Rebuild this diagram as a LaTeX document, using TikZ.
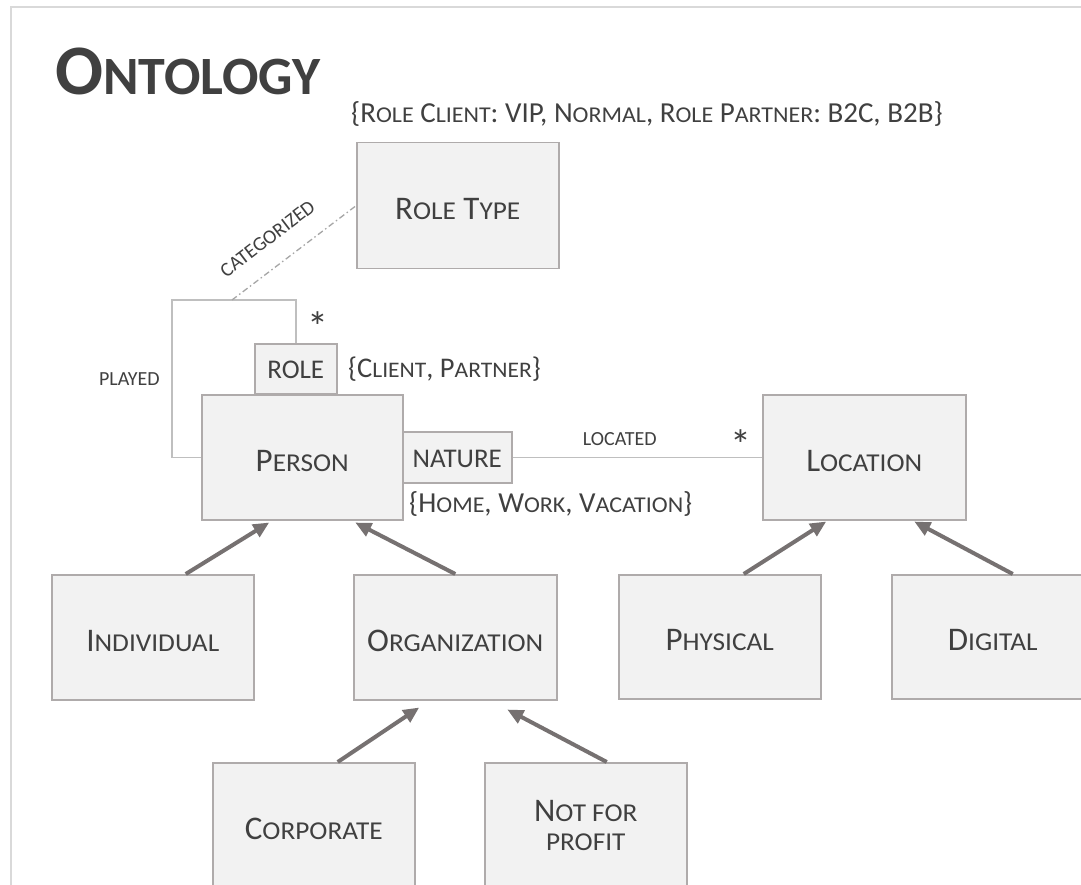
\documentclass[tikz,border=0pt]{standalone}
\usepackage{fontspec}
\setmainfont{Carlito}
\newfontfamily\scf[Scale=0.78, FakeStretch=1.06]{Carlito}
\newfontfamily\tscf[Scale=0.76]{Carlito}
\usetikzlibrary{arrows.meta,calc}
\definecolor{txt}{HTML}{404040}
\definecolor{boxfill}{HTML}{F2F2F2}
\definecolor{boxline}{HTML}{AFABAB}
\definecolor{arr}{HTML}{767171}
\definecolor{conn}{HTML}{BFBFBF}
\definecolor{dashc}{HTML}{A6A6A6}
\definecolor{frm}{HTML}{D9D9D9}
\tikzset{
  boxbase/.style={draw=boxline, fill=boxfill, line width=1.5pt, inner sep=0pt, text=txt,
    font=\fontsize{33}{29}\selectfont, minimum width=202pt, minimum height=125pt, anchor=north west},
  bigbox/.style={boxbase, text height=28pt, text depth=0pt},
  smallbox/.style={draw=boxline, fill=boxfill, line width=1.5pt, inner sep=0pt, text=txt,
    font=\fontsize{27}{27}\selectfont, text height=20pt, text depth=0pt, anchor=north west},
  arrowline/.style={draw=arr, line width=4pt, -{Triangle[length=16pt,width=14pt]}},
  connline/.style={draw=conn, line width=1.5pt},
  lbl/.style={font=\fontsize{20}{20}\selectfont, text=txt, inner sep=0pt},
  ann/.style={text=txt, inner sep=0pt, anchor=base west},
  star/.style={font=\fontsize{42}{42}\selectfont, text=txt, inner sep=0pt},
  titlestyle/.style={font=\bfseries\fontsize{71}{71}\selectfont, text=txt, inner sep=0pt, anchor=base west}
}
\begin{document}
\begin{tikzpicture}[x=1pt,y=-1pt]
\fill[white] (0,0) rectangle (1081,885);
\useasboundingbox (0,0) rectangle (1081,885);
\clip (0,0) rectangle (1081,885);
% frame
\draw[frm, line width=2pt] (11,890) -- (11,7) -- (1090,7);
% title
\node[titlestyle] (title) at (55,95) {O{\tscf NTOLOGY}};
% annotation
\node[ann, font=\fontsize{29}{29}\selectfont] (annrt) at (351,123)
  {\{R{\scf OLE} C{\scf LIENT}: VIP, N{\scf ORMAL}, R{\scf OLE} P{\scf ARTNER}: B2C, B2B\}};
% boxes
\node[bigbox, minimum height=126pt] (roletype) at (356,142) {R{\scf OLE} T{\scf YPE}};
\node[bigbox, minimum width=201pt] (person) at (201,394) {P{\scf ERSON}};
\node[smallbox, minimum width=82pt, minimum height=50pt] (role) at (254,343) {ROLE};
\node[smallbox, minimum width=109pt, minimum height=51pt] (nature) at (402,431) {NATURE};
\node[bigbox, minimum width=203pt] (location) at (762,394) {L{\scf OCATION}};
\node[bigbox] (ind) at (51,574) {I{\scf NDIVIDUAL}};
\node[bigbox, minimum width=203pt] (org) at (353,574) {O{\scf RGANIZATION}};
\node[bigbox, minimum height=124pt] (phys) at (618,574) {P{\scf HYSICAL}};
\node[bigbox, minimum height=124pt] (dig) at (891,574) {D{\scf IGITAL}};
\node[bigbox] (corp) at (212,762) {C{\scf ORPORATE}};
\node[boxbase, align=center] (nfp) at (484,762) {N{\scf OT FOR}\\{\scf PROFIT}};
% annotations near boxes
\node[ann, font=\fontsize{28.5}{28.5}\selectfont] (anncp) at (348,377) {\{C{\scf LIENT}, P{\scf ARTNER}\}};
\node[ann, font=\fontsize{29}{29}\selectfont] (annhw) at (409,512) {\{H{\scf OME}, W{\scf ORK}, V{\scf ACATION}\}};
\node[star, anchor=base] (star1) at (318,341) {*};
% played connector
\coordinate (pl) at (172,300);
\draw[connline] (person.west) -| (pl) -| (role.north);
\node[lbl, anchor=east] (played) at (160,379) {PLAYED};
% categorized
\coordinate (catend) at (232,300);
\draw[draw=dashc, line width=1.3pt, dash pattern=on 6pt off 3pt on 1.5pt off 3pt]
  (catend) -- (roletype.west) node[lbl, sloped, pos=0.42, above=20pt] {CATEGORIZED};
% located
\draw[connline] (nature.east) -- (location.west)
  node[lbl, pos=0.43, above=11pt] {LOCATED}
  node[star, pos=0.916, anchor=base, yshift=-2pt] {*};
% generalization arrows
\draw[arrowline] ([xshift=33pt]ind.north) -- ([xshift=-33pt,yshift=-2pt]person.south);
\draw[arrowline] (org.north) -- ([xshift=53pt,yshift=-2pt]person.south);
\draw[arrowline] ([xshift=24pt]phys.north) -- ([xshift=-38pt,yshift=-1pt]location.south);
\draw[arrowline] ([xshift=20pt]dig.north) -- ([xshift=50pt,yshift=-1pt]location.south);
\draw[arrowline] ([xshift=24pt]corp.north) -- ([xshift=-36pt,yshift=-7pt]org.south);
\draw[arrowline] ([xshift=21pt]nfp.north) -- ([xshift=52pt,yshift=-9pt]org.south);
\end{tikzpicture}
\end{document}
